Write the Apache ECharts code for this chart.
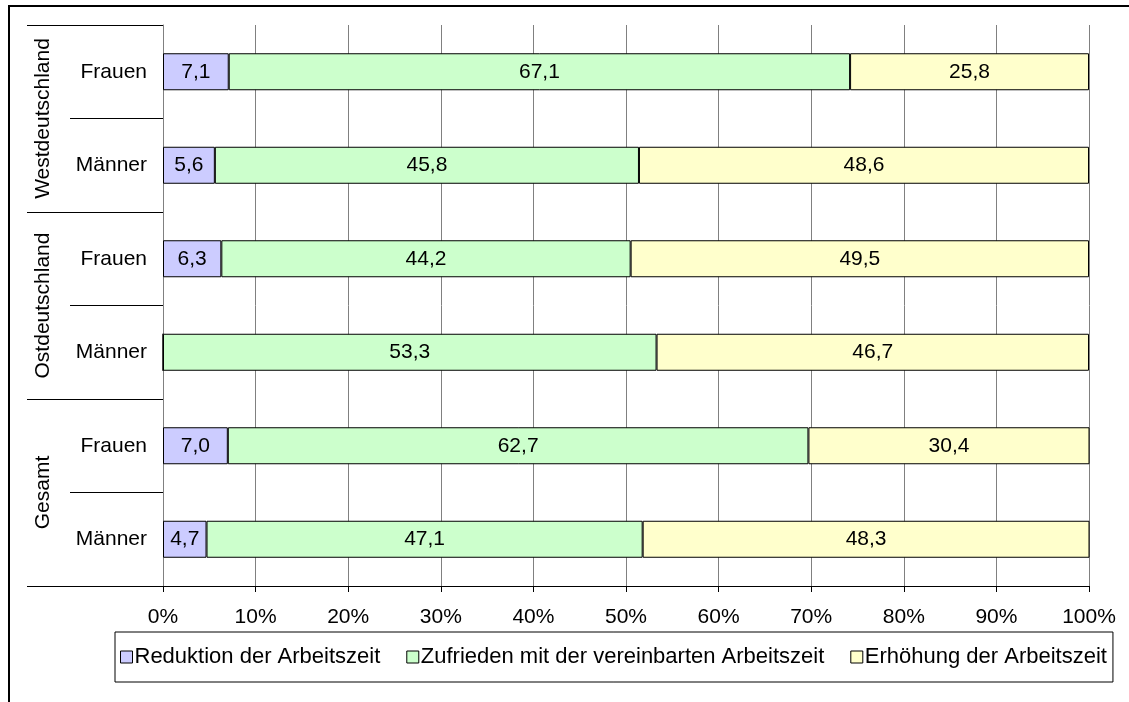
<!DOCTYPE html>
<html>
<head>
    <meta charset="utf-8">
    <title>Arbeitszeitwünsche</title>
    <script src="https://cdn.jsdelivr.net/npm/echarts@6/dist/echarts.min.js"></script>
    <style>
        html, body { margin: 0; padding: 0; background: #fff; }
        #frame {
            position: absolute; left: 8px; top: 5px; width: 1200px; height: 800px;
            border-left: 2px solid #000; border-top: 2px solid #000;
        }
        #chart { position: absolute; left: 0; top: 0; width: 1129px; height: 702px; }
    </style>
</head>
<body>
<div id="frame"></div>
<div id="chart"></div>
<script type="text/javascript">
    // Zeilen (von oben nach unten)
    var rowKeys = ['W-Frauen', 'W-Männer', 'O-Frauen', 'O-Männer', 'G-Frauen', 'G-Männer'];
    var rowLabels = ['Frauen', 'Männer', 'Frauen', 'Männer', 'Frauen', 'Männer'];
    var groups = ['Westdeutschland', 'Ostdeutschland', 'Gesamt'];
    var xTicks = [0, 10, 20, 30, 40, 50, 60, 70, 80, 90, 100];

    var seriesNames = ['Reduktion der Arbeitszeit', 'Zufrieden mit der vereinbarten Arbeitszeit', 'Erhöhung der Arbeitszeit'];
    var reduktion = [7.1, 5.6, 6.3, 0, 7.0, 4.7];
    var zufrieden = [67.1, 45.8, 44.2, 53.3, 62.7, 47.1];
    var erhoehung = [25.8, 48.6, 49.5, 46.7, 30.4, 48.3];
    var colors = ['#CCCCFF', '#CCFFCC', '#FFFFCC'];

    var font = 'Liberation Sans, Arial, sans-serif';

    function fmt(p) {
        if (!p.value) return '';
        return p.value.toFixed(1).replace('.', ',');
    }

    function bar(name, data, color) {
        return {
            name: name,
            type: 'bar',
            stack: 'total',
            barWidth: 37,
            data: data,
            itemStyle: { color: color, borderColor: '#000', borderWidth: 1 },
            label: {
                show: true, position: 'inside', color: '#000',
                fontFamily: font, fontSize: 21, formatter: fmt
            },
            emphasis: { disabled: true }
        };
    }

    var myChart = echarts.init(document.getElementById('chart'));
    myChart.setOption({
        animation: false,
        textStyle: { fontFamily: font },
        grid: { left: 163, right: 40, top: 25, bottom: 116 },
        legend: {
            data: seriesNames,
            left: 115, top: 632,
            icon: 'rect', itemWidth: 12, itemHeight: 12, itemGap: 26,
            padding: [14, 6, 14, 5],
            borderColor: '#000', borderWidth: 1,
            textStyle: { fontFamily: font, fontSize: 22, color: '#000', padding: [0, 0, 0, -3] },
            itemStyle: { borderColor: '#000', borderWidth: 1 }
        },
        xAxis: {
            type: 'value', min: 0, max: 100, interval: 10,
            axisLine: { show: true, lineStyle: { color: '#000', width: 1 } },
            axisTick: { show: true, length: 6, lineStyle: { color: '#000' } },
            splitLine: { show: true, lineStyle: { color: '#808080', width: 1 } },
            axisLabel: {
                color: '#000', fontFamily: font, fontSize: 21, margin: 21,
                formatter: function (v) { return xTicks.indexOf(v) >= 0 ? v + '%' : ''; }
            }
        },
        yAxis: [{
            type: 'category', inverse: true, data: rowKeys,
            axisLine: { show: true, lineStyle: { color: '#808080', width: 1 } },
            axisTick: { show: true, length: 93, lineStyle: { color: '#000' } },
            axisLabel: {
                color: '#000', fontFamily: font, fontSize: 21, margin: 16, interval: 0,
                formatter: function (v, i) { return rowLabels[i]; }
            }
        }, {
            type: 'category', inverse: true, data: groups, position: 'left', offset: 136,
            axisLine: { show: false },
            axisTick: { show: true, inside: true, length: 136, interval: 0, lineStyle: { color: '#000' } },
            axisLabel: {
                color: '#000', fontFamily: font, fontSize: 21, rotate: 90,
                inside: true, margin: 6, interval: 0, hideOverlap: false
            }
        }],
        series: [
            bar(seriesNames[0], reduktion, colors[0]),
            bar(seriesNames[1], zufrieden, colors[1]),
            bar(seriesNames[2], erhoehung, colors[2])
        ]
    });
</script>
</body>
</html>
